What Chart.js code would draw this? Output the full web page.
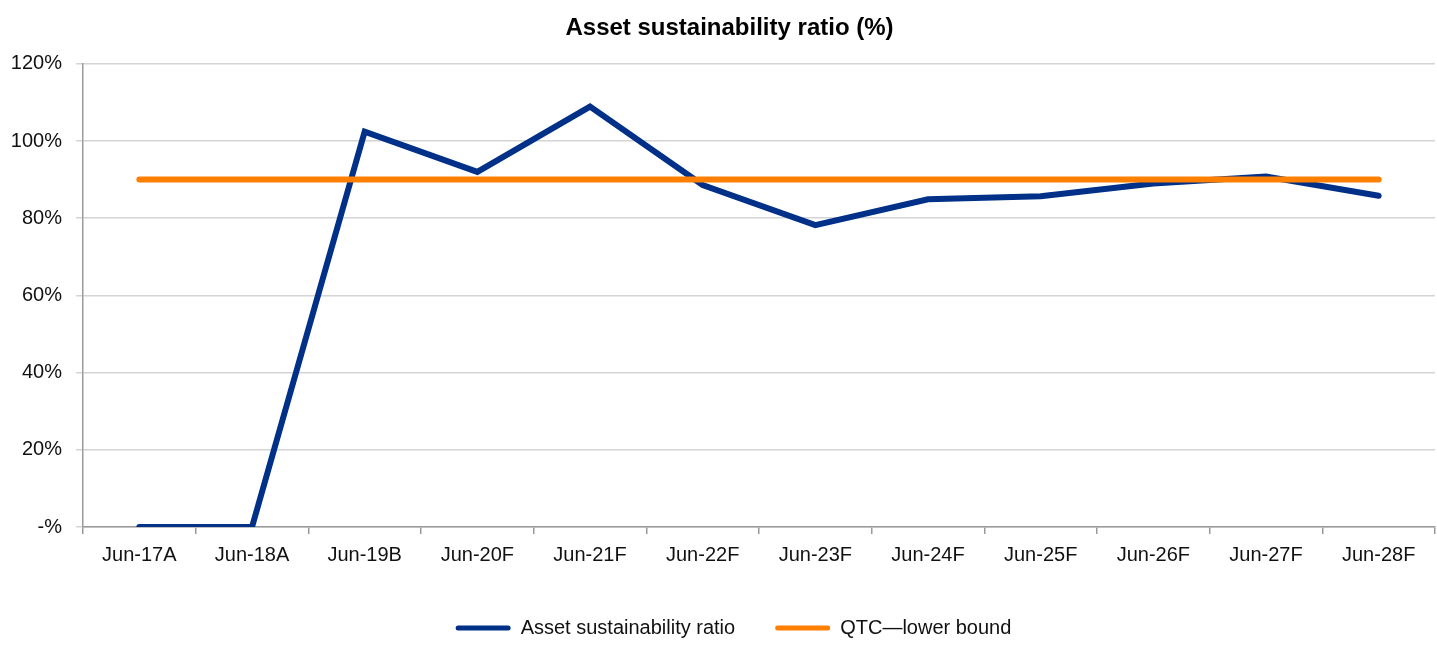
<!DOCTYPE html>
<html>
<head>
<meta charset="utf-8">
<script src="https://cdn.jsdelivr.net/npm/chart.js@4.4.0/dist/chart.umd.min.js"></script>
<style>
  html, body { margin: 0; padding: 0; background: #fff; }
  #wrap { width: 1437px; height: 648px; }
</style>
</head>
<body>
<div id="wrap"><canvas id="c" width="1437" height="648"></canvas></div>
<script>
const categories = ['Jun-17A','Jun-18A','Jun-19B','Jun-20F','Jun-21F','Jun-22F','Jun-23F','Jun-24F','Jun-25F','Jun-26F','Jun-27F','Jun-28F'];
const assetRatio = [0, 0, 102.4, 92.0, 108.9, 88.6, 78.2, 84.9, 85.7, 89.0, 90.8, 85.8];
const qtcLowerBound = [90, 90, 90, 90, 90, 90, 90, 90, 90, 90, 90, 90];
const seriesNames = ['Asset sustainability ratio', 'QTC\u2014lower bound'];
const yTicks = [0, 20, 40, 60, 80, 100, 120];

const FONT = "'Liberation Sans Narrow', 'Arial Narrow', 'Liberation Sans', Arial, sans-serif";
const BLUE = '#003087';
const ORANGE = '#FF8000';

const blockShift = {
  id: 'blockShift',
  afterLayout(chart) {
    if (chart.legend) { chart.legend.left += 32; }
    if (chart.titleBlock) { chart.titleBlock.left += 24; }
  }
};

new Chart(document.getElementById('c'), {
  type: 'line',
  data: {
    labels: categories,
    datasets: [
      { label: seriesNames[0], data: assetRatio, borderColor: BLUE, backgroundColor: BLUE,
        borderWidth: 6, pointRadius: 0, tension: 0, borderCapStyle: 'round', borderJoinStyle: 'miter', order: 2 },
      { label: seriesNames[1], data: qtcLowerBound, borderColor: ORANGE, backgroundColor: ORANGE,
        borderWidth: 6, pointRadius: 0, tension: 0, borderCapStyle: 'round', order: 1 }
    ]
  },
  plugins: [blockShift],
  options: {
    responsive: false,
    animation: false,
    layout: { padding: { left: 0, right: 2, top: 0, bottom: 0 } },
    plugins: {
      title: {
        display: true,
        text: 'Asset sustainability ratio (%)',
        color: '#000',
        font: { family: "'Liberation Sans', Arial, sans-serif", size: 24, weight: 'bold' },
        padding: { top: 14, bottom: 21 }
      },
      legend: {
        position: 'bottom',
        labels: {
          color: '#111',
          font: { family: FONT, size: 20 },
          boxWidth: 55,
          boxHeight: 5,
          padding: 10,
          useBorderRadius: true,
          borderRadius: 2.5,
          generateLabels: (chart) => chart.data.datasets.map((ds, i) => ({
            text: i === 0 ? ds.label + '\u2003\u2002' : ds.label,
            fillStyle: ds.borderColor, strokeStyle: ds.borderColor,
            lineWidth: 0, hidden: false, datasetIndex: i, borderRadius: 2.5, fontColor: '#111'
          }))
        }
      },
      tooltip: { enabled: false }
    },
    scales: {
      x: {
        offset: true,
        grid: { offset: true, display: true, drawOnChartArea: false, drawTicks: true, tickLength: 7, color: '#9a9a9a', lineWidth: 1.5 },
        border: { display: true, color: '#9a9a9a', width: 1.5 },
        ticks: { color: '#111', font: { family: FONT, size: 20 }, padding: 9, maxRotation: 0, autoSkip: false },
        afterFit: (s) => { s.height = 81; }
      },
      y: {
        min: 0, max: 120,
        afterBuildTicks: (s) => { s.ticks = yTicks.map(v => ({ value: v })); },
        grid: { color: '#d4d4d4', lineWidth: 1.5, drawTicks: true, tickLength: 7 },
        border: { display: true, color: '#9a9a9a', width: 1.5 },
        ticks: { color: '#111', font: { family: FONT, size: 20 }, padding: 14,
          callback: (v) => v === 0 ? '-%' : v + '%' },
        afterFit: (s) => { s.width = 83; }
      }
    }
  }
});
</script>
</body>
</html>
